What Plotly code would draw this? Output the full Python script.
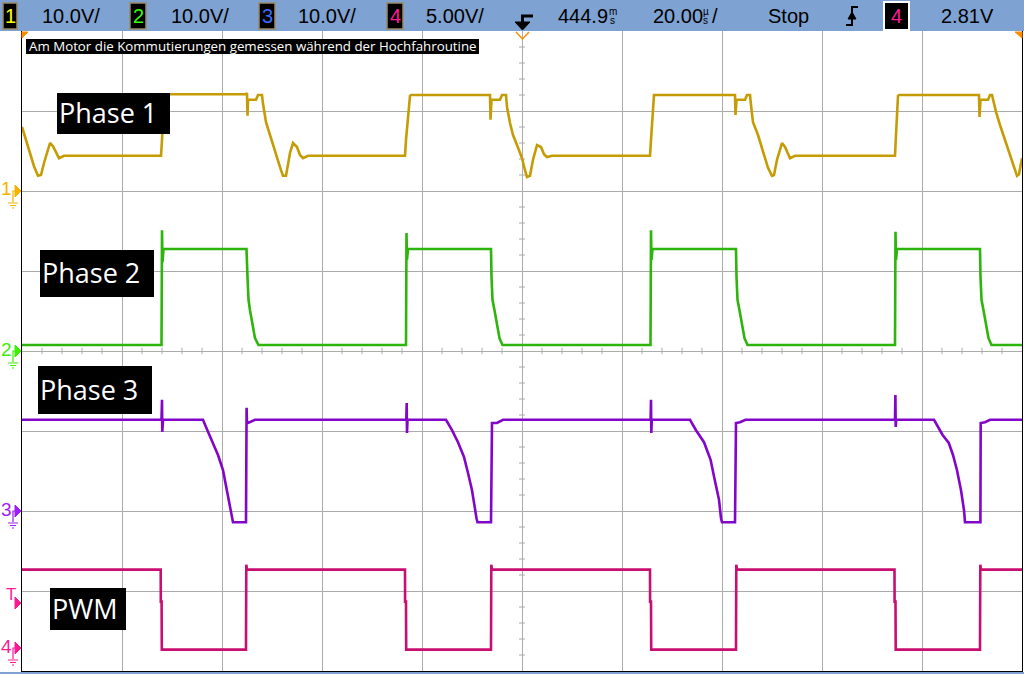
import plotly.graph_objects as go

# ---------------- data (time in µs relative to screen centre, values in volts) ----------------
ch1_t = [-100.0, -99.2, -98.4, -97.6, -96.8, -96.2, -95.6, -95.0, -94.4, -93.8, -93.2, -92.6, -91.6,
         -72.2, -72.0, -71.8, -71.6, -55.2, -55.0, -54.9, -54.8, -53.2, -52.8, -52.0, -51.8, -51.2,
         -50.4, -49.6, -48.8, -48.2, -47.8, -47.2, -46.4, -45.8, -45.0, -44.4, -43.8, -42.8,
         -23.4, -23.2, -22.8, -22.4, -22.2, -6.4, -6.3, -6.1, -4.4, -4.0, -3.2, -3.0, -2.4, -1.8,
         -1.0, 0.0, 0.6, 1.0, 1.6, 2.2, 3.0, 3.8, 4.4, 5.0, 6.0,
         25.6, 25.8, 26.2, 26.4, 42.6, 42.7, 42.9, 44.6, 45.0, 45.6, 45.8, 46.2, 47.2, 48.2, 49.2,
         50.0, 50.4, 51.0, 52.0, 52.6, 53.6, 54.6,
         74.6, 74.8, 75.2, 75.4, 91.4, 91.5, 91.7, 93.2, 93.6, 94.0, 94.2, 94.8, 95.6, 97.0, 98.0,
         99.0, 99.4, 100.0]
ch1_v = [8.0, 6.4, 4.75, 3.1, 1.9, 2.0, 3.5, 4.9, 6.0, 5.6, 4.75, 4.1, 4.4,
         4.4, 6.4, 10.75, 12.1, 12.1, 12.25, 9.4, 11.4, 11.4, 12.0, 12.0, 10.9, 8.6,
         6.9, 5.4, 3.8, 2.6, 1.9, 1.9, 4.75, 6.0, 5.5, 4.5, 4.1, 4.4,
         4.4, 6.4, 9.5, 11.9, 12.0, 12.0, 8.9, 11.4, 11.4, 12.0, 12.0, 10.5, 8.5, 7.0,
         5.75, 4.1, 2.6, 1.75, 1.9, 3.9, 5.75, 5.5, 4.6, 4.25, 4.4,
         4.4, 6.4, 10.75, 12.0, 12.0, 9.5, 11.4, 11.4, 12.0, 12.0, 10.75, 8.6, 7.0, 4.9, 2.9,
         1.9, 2.0, 3.9, 6.0, 5.5, 4.1, 4.4,
         4.4, 7.0, 11.9, 12.0, 12.0, 9.25, 11.4, 11.4, 12.0, 12.0, 11.4, 9.9, 8.25, 5.75, 3.9,
         1.9, 2.1, 4.1]

ch2_t = [-100.0, -72.1, -72.0, -71.9, -71.7, -55.1, -54.9, -54.7, -54.4, -54.1, -53.7, -53.4, -52.7,
         -23.2, -23.1, -23.0, -22.8, -6.2, -6.1, -5.9, -5.5, -5.2, -4.9, -4.5, -3.9,
         25.7, 25.8, 25.9, 26.1, 42.8, 42.9, 43.1, 43.5, 43.8, 44.1, 44.5, 45.1,
         74.6, 74.7, 74.8, 75.0, 91.6, 91.7, 91.9, 92.3, 92.6, 92.9, 93.3, 93.9, 100.0]
ch2_v = [0.75, 0.75, 15.1, 11.1, 12.75, 12.75, 9.25, 6.4, 5.1, 3.9, 2.6, 1.6, 0.75,
         0.75, 14.75, 11.4, 12.75, 12.75, 9.25, 6.4, 5.1, 3.9, 2.6, 1.6, 0.75,
         0.75, 15.1, 11.4, 12.75, 12.75, 9.25, 6.4, 5.1, 3.9, 2.6, 1.6, 0.75,
         0.75, 14.9, 11.4, 12.75, 12.75, 9.25, 6.4, 5.1, 3.9, 2.6, 1.6, 0.75, 0.75]

ch3_t = [-100.0, -72.1, -72.0, -71.95, -71.8, -63.8, -62.8, -61.8, -60.8, -59.8, -59.0, -58.0, -57.8,
         -55.2, -55.14, -55.08, -55.0, -54.8, -53.4,
         -23.14, -23.06, -23.0, -22.9, -15.2, -14.0, -12.8, -11.6, -10.8, -10.0, -9.1, -8.9,
         -6.2, -6.14, -6.0, -5.0, -3.8,
         25.72, 25.8, 25.86, 25.96, 33.6, 34.8, 36.4, 37.72, 38.54, 39.4, 39.8, 40.0,
         42.6, 42.66, 42.8, 43.6, 44.7,
         74.6, 74.68, 74.74, 74.84, 82.4, 84.12, 85.36, 86.2, 87.0, 87.8, 88.4, 88.6,
         91.68, 91.74, 92.6, 93.6, 100.0]
ch3_v = [11.4, 11.4, 13.9, 9.9, 11.4, 11.4, 9.9, 8.5, 7.0, 5.1, 2.6, -0.9, -1.4,
         -1.4, 3.25, 12.9, 11.0, 11.0, 11.4,
         11.4, 13.5, 9.75, 11.4, 11.4, 10.1, 8.6, 6.75, 4.75, 2.6, -0.9, -1.4,
         -1.4, 9.75, 11.0, 11.0, 11.4,
         11.4, 13.9, 9.75, 11.4, 11.4, 10.1, 8.6, 6.4, 3.9, 1.4, -0.9, -1.4,
         -1.4, 3.0, 11.0, 11.1, 11.4,
         11.4, 14.5, 10.5, 11.4, 11.4, 9.5, 8.5, 7.0, 5.1, 2.6, 0.1, -1.4,
         -1.4, 11.0, 11.1, 11.4, 11.4]

ch4_t = [-100.0, -72.26, -72.24, -72.08, -72.04, -55.2, -55.14, -55.0,
         -23.4, -23.38, -23.2, -23.16, -6.2, -6.14, -6.0,
         25.6, 25.62, 25.8, 25.84, 42.8, 42.86, 43.0,
         74.5, 74.52, 74.7, 74.74, 91.6, 91.66, 91.8, 100.0]
ch4_v = [4.9, 4.9, 2.9, 2.9, -0.1, -0.1, 5.2, 4.9,
         4.9, 2.9, 2.9, -0.1, -0.1, 5.2, 4.9,
         4.9, 2.9, 2.9, -0.1, -0.1, 5.2, 4.9,
         4.9, 2.9, 2.9, -0.1, -0.1, 5.2, 4.9, 4.9]

ch_names = ["Phase 1", "Phase 2", "Phase 3", "PWM"]
ch_scale = [10.0, 10.0, 10.0, 5.0]          # V/div
ch_ground = [2.0, 0.0, -2.0, -3.7125]        # ground marker position, divisions from centre
ch_trace_color = ["#c59c04", "#2db50c", "#8205c9", "#c90e72"]
ch_marker_color = ["#f3b300", "#3cf000", "#a01cf8", "#ff1a95"]

header_scale_text = ["10.0V/", "10.0V/", "10.0V/", "5.00V/"]
header_num_color = ["#ffff00", "#33ff00", "#3a6bff", "#ff1a95"]
time_delay = "444.9"
time_base = "20.00"
run_state = "Stop"
trig_level = "2.81V"
note_text = "Am Motor die Kommutierungen gemessen während der Hochfahroutine"

# ---------------- figure ----------------
W, H = 1024, 674
L, R, T, B = 22, 2, 31, 3


def X(px):
    return (px - L) / (W - L - R)


def Y(py):
    return (H - B - py) / (H - T - B)


def path(pts, close=False):
    s = "M " + " L ".join(f"{X(a):.5f},{Y(b):.5f}" for a, b in pts)
    return s + (" Z" if close else "")


fig = go.Figure()
series = [(ch1_t, ch1_v), (ch2_t, ch2_v), (ch3_t, ch3_v), (ch4_t, ch4_v)]
for i, (tt, vv) in enumerate(series):
    fig.add_trace(go.Scatter(x=tt, y=vv, mode="lines", name=ch_names[i],
                             yaxis="y" + str(i + 2),
                             line=dict(color=ch_trace_color[i], width=2.6),
                             hoverinfo="skip", showlegend=False))

grid = "#ababab"
layout = dict(
    width=W, height=H, margin=dict(l=L, r=R, t=T, b=B, pad=0),
    paper_bgcolor="white", plot_bgcolor="white", showlegend=False,
    xaxis=dict(range=[-100, 100], tick0=0, dtick=20, showgrid=True, gridcolor=grid, gridwidth=1,
               zeroline=False, showticklabels=False, ticks="", showline=True, linecolor="black",
               linewidth=1, mirror=True, fixedrange=True),
    yaxis=dict(range=[-4, 4], tick0=0, dtick=1, showgrid=True, gridcolor=grid, gridwidth=1,
               zeroline=False, showticklabels=False, ticks="", showline=True, linecolor="black",
               linewidth=1, mirror=True, fixedrange=True),
)
for i in range(4):
    g, s = ch_ground[i], ch_scale[i]
    layout["yaxis" + str(i + 2)] = dict(overlaying="y", range=[(-4 - g) * s, (4 - g) * s],
                                         visible=False, fixedrange=True)
fig.update_layout(**layout)

shapes = []
# centre-axis minor ticks
for k in range(-25, 26):
    if k % 5:
        tx = k * 4
        shapes.append(dict(type="line", xref="x", yref="y", x0=tx, x1=tx, y0=-0.04, y1=0.04,
                           line=dict(color=grid, width=1), layer="below"))
for k in range(-20, 21):
    if k % 5:
        ty = k * 0.2
        shapes.append(dict(type="line", xref="x", yref="y", x0=-0.6, x1=0.6, y0=ty, y1=ty,
                           line=dict(color=grid, width=1), layer="below"))

# header bar + bottom strip
hdr = "#7ea2d1"
shapes.append(dict(type="rect", xref="paper", yref="paper", x0=X(-5), x1=X(1030), y0=Y(31), y1=Y(-5),
                   fillcolor=hdr, line=dict(width=0), layer="above"))
shapes.append(dict(type="rect", xref="paper", yref="paper", x0=X(-5), x1=X(1030), y0=Y(680), y1=Y(672),
                   fillcolor=hdr, line=dict(width=0), layer="above"))

annotations = []


def text(px, py, s, size, color="black", family="Liberation Sans", xanchor="left"):
    annotations.append(dict(xref="paper", yref="paper", x=X(px), y=Y(py), text=s, showarrow=False,
                            xanchor=xanchor, yanchor="middle", borderpad=0,
                            font=dict(size=size, color=color, family=family)))


# channel boxes in header
box_x = [(3, 17), (130, 146), (259, 275), (387, 403)]
scale_x = [41, 170, 297, 425]
for i in range(4):
    a, b = box_x[i]
    shapes.append(dict(type="rect", xref="paper", yref="paper", x0=X(a), x1=X(b), y0=Y(29), y1=Y(3),
                       fillcolor="black", line=dict(color="#9a8b68", width=1.5), layer="above"))
    text((a + b) / 2, 16.5, str(i + 1), 20, header_num_color[i], xanchor="center")
    text(scale_x[i], 16, header_scale_text[i], 20)

# trigger position glyph
shapes.append(dict(type="path", xref="paper", yref="paper",
                   path=path([(521, 16), (533, 16)]), line=dict(color="black", width=3), layer="above"))
shapes.append(dict(type="path", xref="paper", yref="paper",
                   path=path([(522.5, 15), (522.5, 23)]), line=dict(color="black", width=3), layer="above"))
shapes.append(dict(type="path", xref="paper", yref="paper",
                   path=path([(515, 22), (530, 22), (522.5, 30)], close=True),
                   fillcolor="black", line=dict(color="black", width=1), layer="above"))

text(557, 16, time_delay, 20)
text(608, 11, "m", 10)
text(609, 20, "s", 10)
text(652, 16, time_base, 20)
text(702, 11, "µ", 10)
text(702, 20, "s", 10)
text(711, 16, "/", 20)
text(767, 16, run_state, 20)

# trigger slope glyph
shapes.append(dict(type="path", xref="paper", yref="paper",
                   path=path([(846, 25), (852, 25), (852, 7), (858, 7)]),
                   line=dict(color="black", width=2), layer="above"))
shapes.append(dict(type="path", xref="paper", yref="paper",
                   path=path([(848, 19), (856, 19), (852, 12)], close=True),
                   fillcolor="black", line=dict(color="black", width=1), layer="above"))
# trigger source box
shapes.append(dict(type="rect", xref="paper", yref="paper", x0=X(884), x1=X(909), y0=Y(30), y1=Y(2),
                   fillcolor="black", line=dict(color="white", width=2), layer="above"))
text(896.5, 16.5, "4", 20, header_num_color[3], xanchor="center")
text(940, 16, trig_level, 20)

# time-window markers on top edge
orange = "#ff8c00"
shapes.append(dict(type="path", xref="paper", yref="paper",
                   path=path([(516, 32), (522.5, 39), (529, 32)]),
                   line=dict(color=orange, width=1.5), layer="above"))
shapes.append(dict(type="path", xref="paper", yref="paper",
                   path=path([(22, 32), (28, 32), (22, 38)], close=True),
                   fillcolor=orange, line=dict(color=orange, width=1), layer="above"))
shapes.append(dict(type="path", xref="paper", yref="paper",
                   path=path([(1022, 32), (1015, 32), (1022, 38)], close=True),
                   fillcolor=orange, line=dict(color=orange, width=1), layer="above"))

# note box
shapes.append(dict(type="rect", xref="paper", yref="paper", x0=X(26), x1=X(479), y0=Y(54), y1=Y(39),
                   fillcolor="black", line=dict(width=0), layer="above"))
text(28, 46.5, note_text, 13.3, "white", "Open Sans")

# channel label boxes
label_box = [(57, 93, 170, 134), (40, 250, 154, 297), (38, 366, 152, 414), (50, 588, 126, 630)]
for i, (a, b, c, d) in enumerate(label_box):
    shapes.append(dict(type="rect", xref="paper", yref="paper", x0=X(a), x1=X(c), y0=Y(d), y1=Y(b),
                       fillcolor="black", line=dict(width=0), layer="above"))
    text(a + 1, (b + d) / 2 - 1, ch_names[i], 27, "white", "Open Sans")

# left-side ground markers
for i in range(4):
    s, g = ch_scale[i], ch_ground[i]
    gy = 351 - g * 80
    col = ch_marker_color[i]
    text(6.5, gy - 2, str(i + 1), 19, col, "Liberation Sans", xanchor="center")
    shapes.append(dict(type="path", xref="paper", yref="paper",
                       path=path([(15, gy - 6), (21, gy), (15, gy + 6)], close=True),
                       fillcolor=col, line=dict(color=col, width=1), layer="above"))
    shapes.append(dict(type="path", xref="paper", yref="paper",
                       path=path([(15, gy), (13, gy), (13, gy + 11)]),
                       line=dict(color=col, width=1.2), layer="above"))
    for j, hw in enumerate([5, 3, 1]):
        yy = gy + 12 + j * 2.5
        shapes.append(dict(type="line", xref="paper", yref="paper", x0=X(13 - hw), x1=X(13 + hw),
                           y0=Y(yy), y1=Y(yy), line=dict(color=col, width=1), layer="above"))

# trigger level marker (channel 4, 2.81 V)
trig_v = 2.81
ty = 351 - (ch_ground[3] + trig_v / ch_scale[3]) * 80
pink = ch_marker_color[3]
text(11, ty - 9, "T", 17, pink, "Liberation Sans", xanchor="center")
shapes.append(dict(type="path", xref="paper", yref="paper",
                   path=path([(15, ty - 6), (21, ty), (15, ty + 6)], close=True),
                   fillcolor=pink, line=dict(color=pink, width=1), layer="above"))

fig.update_layout(shapes=shapes, annotations=annotations)
fig.write_html("out.html", config={"displayModeBar": False, "staticPlot": True},
               post_script="document.body.style.margin='0px';document.body.style.overflow='hidden';")
